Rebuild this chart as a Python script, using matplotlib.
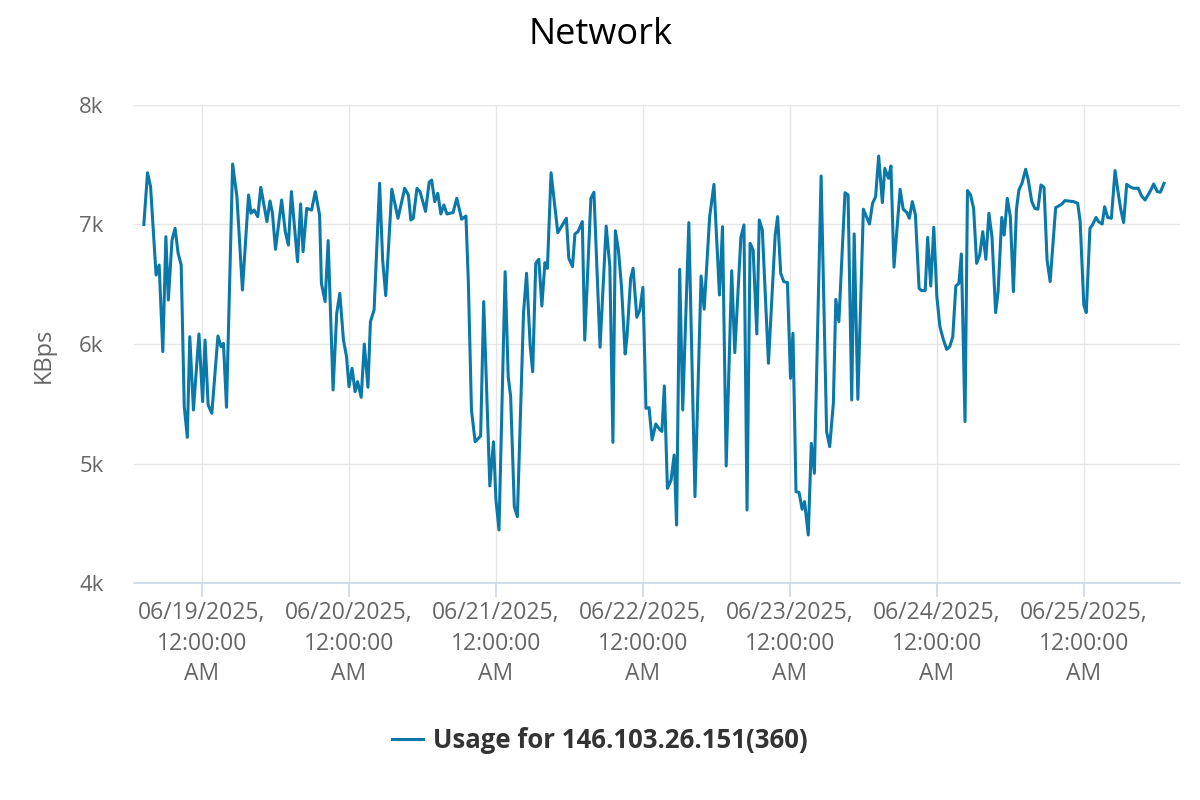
import pandas as pd
import numpy as np
import matplotlib.pyplot as plt
import matplotlib.dates as mdates

plt.rcParams['font.family'] = ['Open Sans', 'DejaVu Sans']

# hours after 06/18/2025 00:00
hours = [
    14.5, 15.1, 15.6, 16.5, 17.0, 17.6, 18.1, 18.5, 19.1, 19.6, 20.1, 20.6, 21.1, 21.6, 22.0, 22.6,
    23.5, 24.1, 24.5, 25.0, 25.6, 26.6, 27.1, 27.5, 28.0, 29.0, 29.7, 30.6, 31.6, 32.0, 32.5, 33.1,
    33.6, 34.6, 35.1, 35.5, 36.0, 37.0, 37.6, 38.1, 38.6, 39.6, 40.1, 40.5, 41.1, 41.9, 42.5, 43.2,
    43.5, 44.1, 44.6, 45.4, 46.0, 46.5, 47.1, 47.6, 48.0, 48.5, 49.0, 49.4, 50.0, 50.5, 51.1, 51.5,
    52.1, 53.0, 53.5, 54.0, 55.0, 56.0, 57.1, 57.7, 58.1, 58.5, 59.1, 59.6, 60.5, 61.1, 61.5, 62.0,
    62.5, 63.0, 63.5, 64.0, 65.0, 65.6, 66.4, 67.1, 67.5, 68.0, 68.6, 69.5, 70.0, 71.0, 71.6, 72.0,
    72.5, 73.5, 74.0, 74.4, 75.0, 75.5, 76.5, 77.0, 77.6, 78.0, 78.5, 79.0, 79.5, 80.0, 80.4, 81.0,
    82.1, 83.5, 83.9, 84.5, 84.9, 85.4, 86.1, 86.5, 87.5, 88.0, 89.0, 90.0, 90.6, 91.1, 91.5, 92.0,
    92.5, 93.1, 93.4, 94.0, 94.4, 95.0, 95.5, 96.0, 96.5, 97.0, 97.5, 98.1, 98.6, 99.1, 99.5, 100.0,
    100.6, 101.1, 101.5, 102.0, 102.5, 103.5, 104.5, 105.5, 106.0, 106.9, 107.6, 108.5, 109.0, 109.6, 110.5, 111.0,
    112.0, 112.5, 113.0, 113.5, 114.0, 114.6, 115.0, 115.5, 116.5, 117.6, 118.0, 118.5, 119.0, 119.6, 120.1, 120.5,
    121.0, 121.5, 122.0, 122.4, 123.0, 123.5, 124.0, 125.1, 126.0, 126.5, 127.1, 127.5, 128.0, 129.0, 129.5, 130.1,
    130.5, 131.1, 132.0, 133.0, 133.5, 134.0, 134.5, 135.1, 135.5, 136.1, 136.5, 137.0, 138.0, 138.5, 139.1, 139.5,
    140.0, 140.5, 141.1, 141.5, 142.1, 142.5, 143.0, 143.5, 144.0, 144.5, 145.0, 145.6, 146.1, 146.6, 147.1, 147.6,
    148.0, 148.6, 149.0, 149.5, 150.0, 150.5, 151.0, 151.5, 152.0, 152.5, 153.0, 153.6, 154.0, 154.6, 155.0, 155.5,
    156.0, 156.5, 157.0, 157.4, 157.9, 158.5, 158.9, 159.5, 160.0, 160.5, 161.0, 161.5, 162.0, 162.5, 163.4, 164.4,
    164.9, 166.3, 167.0, 167.4, 168.0, 168.4, 169.0, 169.4, 170.0, 170.4, 171.0, 171.4, 171.9, 172.5, 173.1, 173.5,
    174.0, 174.5, 175.0, 175.5, 176.1, 176.9, 177.4, 178.0, 178.9, 179.4, 180.0, 180.5, 181.1,
]

usage = [
    7000, 7433, 7316, 6577, 6661, 5936, 6898, 6368, 6870, 6968, 6759, 6661, 5475, 5219, 6061, 5448,
    6084, 5518, 6033, 5490, 5420, 6067, 5978, 6005, 5471, 7506, 7233, 6452, 7247, 7094, 7121, 7066,
    7311, 7024, 7197, 7094, 6792, 7205, 6940, 6828, 7275, 6689, 7172, 6773, 7135, 7121, 7275, 7079,
    6508, 6355, 6865, 5615, 6257, 6424, 6033, 5894, 5643, 5797, 5601, 5685, 5554, 6000, 5638, 6187,
    6285, 7345, 6703, 6405, 7295, 7052, 7303, 7247, 7038, 7052, 7303, 7275, 7110, 7355, 7372, 7191,
    7261, 7088, 7163, 7088, 7100, 7220, 7044, 7071, 6508, 5448, 5182, 5230, 6355, 4812, 5182, 4695,
    4444, 6605, 5727, 5560, 4638, 4555, 6257, 6592, 5978, 5768, 6675, 6709, 6318, 6681, 6633, 7433,
    6931, 7052, 6717, 6648, 6921, 6940, 7024, 6033, 7219, 7270, 5973, 6987, 6648, 5177, 6948, 6787,
    6480, 5916, 6061, 6550, 6633, 6224, 6285, 6474, 5462, 5467, 5197, 5331, 5294, 5268, 5649, 4792,
    4862, 5071, 4485, 6625, 5448, 7016, 4723, 6569, 6291, 7066, 7336, 6410, 6982, 4979, 6613, 5928,
    6893, 6996, 4611, 6843, 6787, 6084, 7038, 6954, 5839, 6912, 7066, 6592, 6522, 6514, 5713, 6090,
    4764, 4757, 4617, 4681, 4402, 5169, 4918, 7406, 5267, 5141, 5504, 6374, 6188, 7266, 7247, 5531,
    6921, 5537, 7128, 7004, 7177, 7233, 7573, 7183, 7470, 7387, 7490, 6643, 7295, 7128, 7100, 7052,
    7192, 7080, 6466, 6447, 6447, 6893, 6485, 6977, 6396, 6146, 6048, 5955, 5978, 6061, 6485, 6508,
    6754, 5350, 7284, 7247, 7136, 6675, 6745, 6940, 6709, 7094, 6898, 6263, 6438, 7059, 6912, 7219,
    7066, 6438, 7128, 7289, 7345, 7462, 7379, 7192, 7135, 7128, 7331, 7311, 6703, 6522, 7141, 7170,
    7200, 7192, 7178, 7024, 6326, 6263, 6968, 6996, 7059, 7024, 7004, 7149, 7059, 7052, 7451, 7303,
    7135, 7016, 7336, 7317, 7303, 7303, 7241, 7205, 7284, 7339, 7275, 7270, 7345,
]

start = pd.Timestamp('2025-06-18 00:00')
times = start + pd.to_timedelta(hours, unit='h')

fig = plt.figure(figsize=(12, 8), dpi=100)
ax = fig.add_axes([0.1117, 0.27125, 0.8716, 0.5975])

line, = ax.plot(times, usage, color='#0a78a8', linewidth=2.2,
                label='Usage for 146.103.26.151(360)')

ax.set_ylim(4000, 8000)
ax.set_yticks([4000, 5000, 6000, 7000, 8000])
ax.set_yticklabels(['4k', '5k', '6k', '7k', '8k'])
ax.set_xlim(start + pd.Timedelta(hours=12.9), start + pd.Timedelta(hours=183.7))

ticks = pd.date_range('2025-06-19', '2025-06-25', freq='D')
ax.set_xticks(ticks)
ax.xaxis.set_major_formatter(mdates.DateFormatter('%m/%d/%Y,\n%I:%M:%S\n%p'))

ax.grid(True, color='#e6e6e6', linewidth=1)
ax.set_axisbelow(True)
for s in ['top', 'right', 'left']:
    ax.spines[s].set_visible(False)
ax.spines['bottom'].set_color('#ccd6eb')
ax.spines['bottom'].set_linewidth(1.2)
ax.tick_params(axis='x', colors='#ccd6eb', length=10, width=1.2, labelcolor='#666666',
               labelsize=16.5, pad=3)
ax.tick_params(axis='y', length=0, labelcolor='#666666', labelsize=16, pad=22)
for lab in ax.get_xticklabels():
    lab.set_linespacing(1.36)

ax.set_ylabel('KBps', color='#666666', fontsize=17)
ax.yaxis.set_label_coords(-0.075, 0.477)

fig.suptitle('Network', fontsize=26, color='#000000', y=0.956, va='center')

fig.legend(handles=[line], loc='center', bbox_to_anchor=(0.5, 0.074), frameon=False,
           prop={'size': 18.5, 'weight': 'bold'}, handlelength=1.2, handletextpad=0.4,
           labelcolor='#333333')

fig.savefig('out.png', dpi=100)
